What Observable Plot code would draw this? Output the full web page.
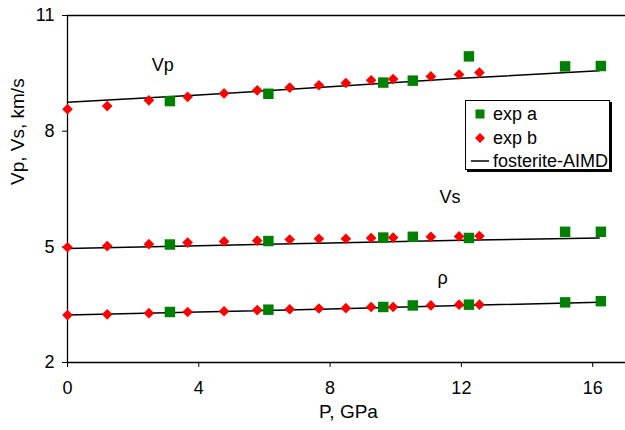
<!DOCTYPE html>
<html>
<head>
<meta charset="utf-8">
<script src="https://cdn.jsdelivr.net/npm/d3@7"></script>
<script src="https://cdn.jsdelivr.net/npm/@observablehq/plot@0.6"></script>
<style>
  body { margin: 0; background: #fff; }
  #wrap { position: relative; width: 625px; height: 430px; font-family: "Liberation Sans", Arial, sans-serif; }
  #legend { position: absolute; left: 465px; top: 100px; width: 143px; height: 68px; background: #fff;
    border: 1px solid #000; box-shadow: 2px 2px 0 #000; font-size: 18px; color: #000; }
  .row { position: absolute; left: 0; height: 20px; display: flex; align-items: center; }
  .row svg { position: absolute; left: 4px; }
  .row span { position: absolute; left: 27px; white-space: nowrap; line-height: 20px; }
</style>
</head>
<body>
<div id="wrap"></div>
<script>
// exp b (red diamonds)
const P_b   = [0, 1.21, 2.48, 3.66, 4.77, 5.78, 6.77, 7.66, 8.48, 9.25, 9.92, 11.07, 11.93, 12.55];
const vp_b  = [8.57, 8.65, 8.80, 8.89, 8.98, 9.06, 9.13, 9.19, 9.25, 9.32, 9.35, 9.42, 9.47, 9.52];
const vs_b  = [4.99, 5.02, 5.07, 5.11, 5.14, 5.16, 5.19, 5.21, 5.21, 5.23, 5.24, 5.26, 5.27, 5.28];
const rho_b = [3.23, 3.25, 3.28, 3.31, 3.33, 3.36, 3.38, 3.40, 3.41, 3.44, 3.44, 3.48, 3.50, 3.50];
// exp a (green squares)
const P_a   = [3.12, 6.12, 9.62, 10.52, 12.23, 15.16, 16.25];
const vp_a  = [8.78, 8.97, 9.26, 9.31, 9.94, 9.68, 9.69];
const vs_a  = [5.06, 5.15, 5.24, 5.26, 5.23, 5.39, 5.39];
const rho_a = [3.31, 3.37, 3.44, 3.48, 3.50, 3.56, 3.59];
// fosterite-AIMD lines
const P_md   = [0, 4, 8, 12, 16.2];
const vp_md  = [8.75, 8.94, 9.15, 9.37, 9.57];
const vs_md  = [4.96, 5.03, 5.10, 5.17, 5.23];
const rho_md = [3.23, 3.31, 3.39, 3.48, 3.56];
// in-plot labels
const labelText = ["Vp", "Vs", "ρ"];
const labelP    = [2.9, 11.65, 11.43];
const labelV    = [9.70, 6.28, 4.19];

const xTicks = [0, 4, 8, 12, 16];
const yTicks = [2, 5, 8, 11];

const green = "#008000", red = "#ff0000";
const FS = 18;
const pts = (P, V) => P.map((p, i) => ({P: p, v: V[i]}));
const lineOpts = {x: "P", y: "v", stroke: "#000", strokeWidth: 1.5};
const sqOpts = {x: "P", y: "v", symbol: "square", r: 5.9, fill: green};
const diOpts = {x: "P", y: "v", symbol: "diamond2", r: 4.8, fill: red};

const chart = Plot.plot({
  width: 625, height: 430,
  marginLeft: 67, marginRight: 0, marginTop: 15, marginBottom: 68,
  style: {fontFamily: '"Liberation Sans", Arial, sans-serif', fontSize: FS + "px", color: "#000", background: "#fff"},
  x: {domain: [0, 17]},
  y: {domain: [2, 11]},
  marks: [
    Plot.ruleY([11], {stroke: "#000", strokeWidth: 1.3}),
    Plot.ruleY([2], {stroke: "#000", strokeWidth: 1.3}),
    Plot.ruleX([0], {stroke: "#000", strokeWidth: 1.3}),
    Plot.axisX({ticks: xTicks, tickSize: 5, tickPadding: 14, label: null, fontSize: FS}),
    Plot.axisY({ticks: yTicks, tickSize: 5, tickPadding: 8, label: null, fontSize: FS}),
    Plot.line(pts(P_md, vp_md), lineOpts),
    Plot.line(pts(P_md, vs_md), lineOpts),
    Plot.line(pts(P_md, rho_md), lineOpts),
    Plot.dot(pts(P_a, vp_a), sqOpts),
    Plot.dot(pts(P_a, vs_a), sqOpts),
    Plot.dot(pts(P_a, rho_a), sqOpts),
    Plot.dot(pts(P_b, vp_b), diOpts),
    Plot.dot(pts(P_b, vs_b), diOpts),
    Plot.dot(pts(P_b, rho_b), diOpts),
    Plot.text(labelText.map((t, i) => ({t, P: labelP[i], v: labelV[i]})), {x: "P", y: "v", text: "t", fontSize: FS, fill: "#000"}),
    Plot.text(["P, GPa"], {frameAnchor: "bottom", dx: 2, dy: 55, fontSize: FS + 1, fill: "#000"}),
    Plot.text(["Vp, Vs, km/s"], {frameAnchor: "left", dx: -50, dy: -4, rotate: -90, fontSize: FS + 1, fill: "#000"})
  ]
});
const wrap = document.getElementById("wrap");
wrap.appendChild(chart);

const legend = document.createElement("div");
legend.id = "legend";
legend.innerHTML = `
  <div class="row" style="top:3px"><svg width="20" height="20"><rect x="5.5" y="5.5" width="9" height="9" fill="${green}"/></svg><span>exp a</span></div>
  <div class="row" style="top:27px"><svg width="20" height="20"><path d="M10 5 L15 10 L10 15 L5 10 Z" fill="${red}"/></svg><span>exp b</span></div>
  <div class="row" style="top:50px"><svg width="20" height="20"><line x1="1" y1="10" x2="19" y2="10" stroke="#000" stroke-width="1.5"/></svg><span>fosterite-AIMD</span></div>`;
wrap.appendChild(legend);
</script>
</body>
</html>
